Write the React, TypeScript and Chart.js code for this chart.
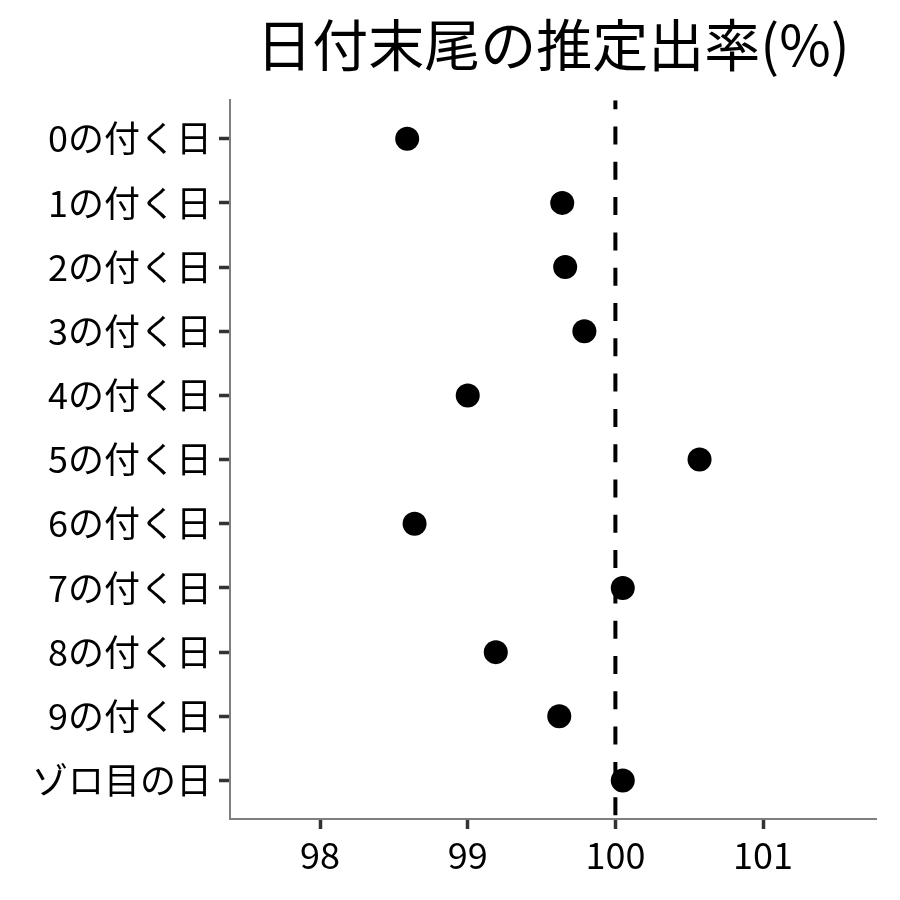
import React, { useEffect, useRef } from "react";
import { Chart, registerables } from "chart.js";

Chart.register(...registerables);

const TITLE = "日付末尾の推定出率(%)";
const CATEGORIES = [
  "0の付く日",
  "1の付く日",
  "2の付く日",
  "3の付く日",
  "4の付く日",
  "5の付く日",
  "6の付く日",
  "7の付く日",
  "8の付く日",
  "9の付く日",
  "ゾロ目の日",
];
const RATES = [98.59, 99.64, 99.66, 99.79, 99.0, 100.57, 98.64, 100.05, 99.19, 99.62, 100.05];
const X_TICKS = [98, 99, 100, 101];
const REFERENCE = 100;

const FONT = "'Noto Sans CJK JP', 'Noto Sans', sans-serif";

export default function App() {
  const canvasRef = useRef<HTMLCanvasElement | null>(null);

  useEffect(() => {
    const canvas = canvasRef.current;
    if (!canvas) return;
    const yMin = -0.6;
    const yMax = CATEGORIES.length - 1 + 0.6;
    const chart = new Chart(canvas, {
      type: "scatter",
      data: {
        datasets: [
          {
            label: "rate",
            data: RATES.map((v, i) => ({ x: v, y: i })),
            pointRadius: 12,
            pointHoverRadius: 12,
            backgroundColor: "#000000",
            borderWidth: 0,
            order: 1,
          },
          {
            label: "ref",
            data: [
              { x: REFERENCE, y: yMin },
              { x: REFERENCE, y: yMax },
            ],
            showLine: true,
            borderColor: "#000000",
            borderWidth: 4,
            borderDash: [18, 17.3],
            borderDashOffset: 9,
            pointRadius: 0,
            pointHoverRadius: 0,
            order: 2,
          } as any,
        ],
      },
      options: {
        responsive: false,
        animation: false,
        devicePixelRatio: 1,
        events: [],
        layout: { padding: { left: 0, right: 24, top: 0, bottom: 0 } },
        plugins: {
          legend: { display: false },
          tooltip: { enabled: false },
          title: {
            display: true,
            text: TITLE,
            fullSize: false,
            align: "center",
            color: "#000000",
            font: { family: FONT, size: 56, weight: "normal" },
            padding: { top: 11, bottom: 22 },
          },
        },
        scales: {
          x: {
            type: "linear",
            min: 97.39,
            max: 101.765,
            afterBuildTicks: (scale: any) => {
              scale.ticks = X_TICKS.map((v) => ({ value: v }));
            },
            afterFit: (scale: any) => {
              scale.height = 81;
            },
            grid: {
              drawOnChartArea: false,
              drawTicks: true,
              tickLength: 10,
              tickColor: "#333333",
              tickWidth: 3.5,
            },
            border: { display: true, color: "#7f7f7f", width: 2 },
            ticks: {
              autoSkip: false,
              maxRotation: 0,
              padding: 5,
              color: "#000000",
              font: { family: FONT, size: 36 },
              callback: (v: any) => String(v),
            },
          },
          y: {
            type: "linear",
            reverse: true,
            min: yMin,
            max: yMax,
            afterBuildTicks: (scale: any) => {
              scale.ticks = CATEGORIES.map((_, i) => ({ value: i }));
            },
            afterFit: (scale: any) => {
              scale.width = 230;
            },
            grid: {
              drawOnChartArea: false,
              drawTicks: true,
              tickLength: 11,
              tickColor: "#333333",
              tickWidth: 3.5,
            },
            border: { display: true, color: "#7f7f7f", width: 2 },
            ticks: {
              autoSkip: false,
              padding: 7,
              color: "#000000",
              font: { family: FONT, size: 36 },
              callback: (v: any) => CATEGORIES[Math.round(Number(v))] ?? "",
            },
          },
        },
      },
    });
    return () => chart.destroy();
  }, []);

  return (
    <div style={{ position: "absolute", left: 0, top: 0, width: 900, height: 900, background: "#ffffff" }}>
      <canvas ref={canvasRef} width={900} height={900} style={{ width: 900, height: 900 }} />
    </div>
  );
}
